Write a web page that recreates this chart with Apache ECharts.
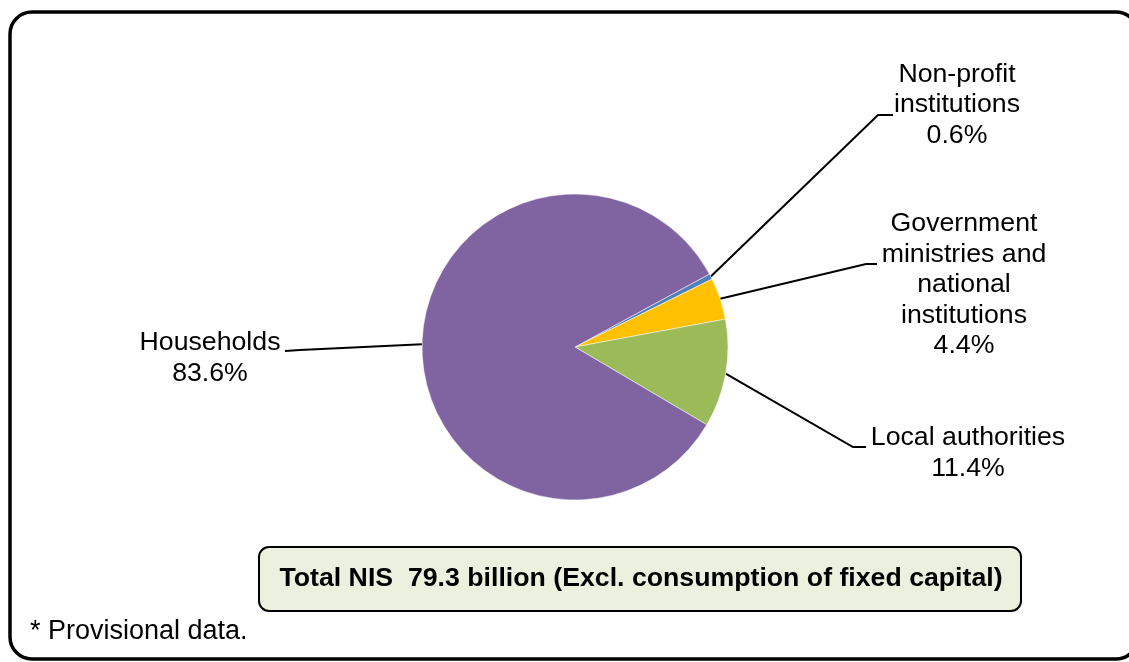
<!DOCTYPE html>
<html>
<head>
<meta charset="utf-8">
<script src="https://cdn.jsdelivr.net/npm/echarts@6/dist/echarts.min.js"></script>
<style>
html,body{margin:0;padding:0;background:#fff;}
#chart{width:1129px;height:662px;}
</style>
</head>
<body>
<div id="chart"></div>
<script>
// Data
const categories = ['Non-profit\ninstitutions', 'Government\nministries and\nnational\ninstitutions', 'Local authorities', 'Households'];
const shares = [0.6, 4.4, 11.4, 83.6];
const colors = ['#4F81BD', '#FFC000', '#9BBB59', '#8064A2'];
const totalNote = 'Total NIS  79.3 billion (Excl. consumption of fixed capital)';
const footnote = '* Provisional data.';

// Label placement (layout only)
const labelPos = [
  {x: 957, y: 105, elbow: [878, 115], end: [893, 115]},
  {x: 964, y: 285, elbow: [866, 264], end: [877, 264]},
  {x: 968, y: 453, elbow: [853, 447], end: [866, 447]},
  {x: 210, y: 358, elbow: [300, 350], end: [285, 351]}
];

const font = "'Liberation Sans', Arial, sans-serif";
const chart = echarts.init(document.getElementById('chart'));
chart.setOption({
  backgroundColor: '#fff',
  animation: false,
  graphic: [
    {type: 'rect', shape: {x: 10, y: 12, width: 1128, height: 647, r: 22},
     style: {fill: 'none', stroke: '#000', lineWidth: 3.5}, z: 10},
    {type: 'rect', shape: {x: 259, y: 547, width: 762, height: 64, r: 10},
     style: {fill: '#EBF1DE', stroke: '#000', lineWidth: 2}, z: 10},
    {type: 'text', x: 641, y: 579, z: 11,
     style: {text: totalNote, font: "bold 26.7px " + font, fill: '#000', align: 'center', verticalAlign: 'middle'}},
    {type: 'text', x: 30, y: 632, z: 11,
     style: {text: footnote, font: "27px " + font, fill: '#000', align: 'left', verticalAlign: 'middle'}}
  ],
  series: [{
    type: 'pie',
    center: [575, 347],
    radius: 153,
    startAngle: 28.5,
    clockwise: true,
    data: categories.map((c, i) => ({name: c, value: shares[i], itemStyle: {color: colors[i]}})),
    itemStyle: {borderColor: '#fff', borderWidth: 0.5},
    label: {
      show: true,
      formatter: p => p.name + '\n' + shares[p.dataIndex].toFixed(1) + '%',
      fontFamily: font,
      fontSize: 26.7,
      lineHeight: 30.5,
      color: '#000',
      align: 'center'
    },
    labelLine: {show: true, lineStyle: {color: '#000', width: 2}},
    labelLayout: function (params) {
      const lp = labelPos[params.dataIndex];
      const anchor = params.labelLinePoints ? params.labelLinePoints[0] : lp.elbow;
      return {
        x: lp.x, y: lp.y, align: 'center', verticalAlign: 'middle',
        labelLinePoints: [anchor, lp.elbow, lp.end]
      };
    },
    emphasis: {disabled: true}
  }]
});
</script>
</body>
</html>
